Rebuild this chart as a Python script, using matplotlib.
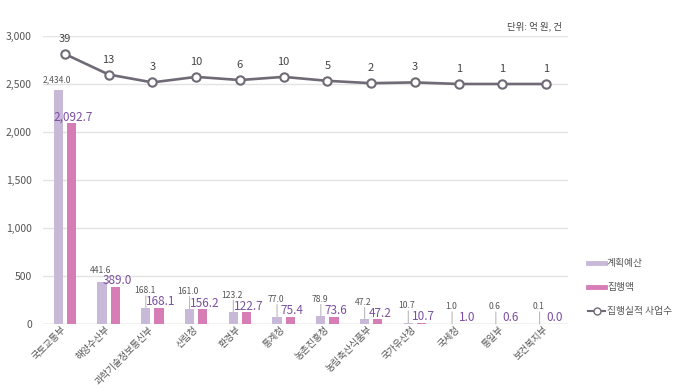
import matplotlib
matplotlib.use("Agg")
import matplotlib.pyplot as plt
from matplotlib.lines import Line2D
import numpy as np

plt.rcParams['font.family'] = ['Noto Sans CJK KR', 'DejaVu Sans']

categories = ['국토교통부', '해양수산부', '과학기술정보통신부', '산림청', '환경부', '통계청',
              '농촌진흥청', '농림축산식품부', '국가유산청', '국세청', '통일부', '보건복지부']
planned = [2434.0, 441.6, 168.1, 161.0, 123.2, 77.0, 78.9, 47.2, 10.7, 1.0, 0.6, 0.1]
executed = [2092.7, 389.0, 168.1, 156.2, 122.7, 75.4, 73.6, 47.2, 10.7, 1.0, 0.6, 0.0]
projects = [39, 13, 3, 10, 6, 10, 5, 2, 3, 1, 1, 1]
yticks = [0, 500, 1000, 1500, 2000, 2500, 3000]

c_plan = '#c9b9d9'
c_exec = '#d67db6'
c_line = '#6f6a75'
c_lbl = '#7b4fa0'

fig = plt.figure(figsize=(6.78, 3.89), dpi=100)
ax = fig.add_axes([0.0634, 0.1671, 0.7744, 0.7404])
x = np.arange(len(categories))
w = 0.21
off = 0.15
ax.bar(x - off, planned, w, color=c_plan, zorder=2)
ax.bar(x + off, executed, w, color=c_exec, zorder=2)

ax.set_xlim(-0.5, len(categories) - 0.5)
ax.set_ylim(0, 3000)
ax.set_yticks(yticks)
ax.set_yticklabels([f'{v:,}' for v in yticks], fontsize=7.5, color='#555555')
ax.grid(axis='y', color='#e2e2e2', linewidth=1, zorder=0)
for s in ax.spines.values():
    s.set_visible(False)
ax.tick_params(axis='y', length=0, pad=8)
ax.tick_params(axis='x', length=0, pad=3)
ax.set_xticks(x)
ax.set_xticklabels(categories, rotation=45, ha='right', va='center',
                   rotation_mode='anchor', fontsize=6.8, color='#555555')
ax.axhline(0, color='#d0d0d0', linewidth=1, zorder=1)


def fmt(v):
    return f'{v:,.1f}' if v >= 1000 else f'{v:.1f}'


for i, (p, e) in enumerate(zip(planned, executed)):
    big = p > 300
    dy = 11 if big else 17
    ax.annotate(fmt(p), (i - off - 0.03, p), xytext=(0, dy), textcoords='offset pixels',
                ha='center', va='center', fontsize=6.2, color='#555555', zorder=5)
    if not big:
        ax.annotate('', (i - off, p), xytext=(0, dy - 5), textcoords='offset pixels',
                    arrowprops=dict(arrowstyle='-', color='#bbbbbb', lw=0.8,
                                    shrinkA=0, shrinkB=0))
    ax.annotate(fmt(e), (i + off, e), xytext=(2, 6),
                textcoords='offset pixels', ha='center', va='center',
                fontsize=8.5, color=c_lbl, zorder=5)

ax2 = ax.twinx()
ax2.set_ylim(-303, 61.8)
ax2.plot(x, projects, color=c_line, linewidth=1.9, marker='o', markersize=6,
         markerfacecolor='white', markeredgecolor=c_line, markeredgewidth=1.5, zorder=6)
for i, n in enumerate(projects):
    ax2.annotate(str(n), (i, n), xytext=(0, 15), textcoords='offset pixels',
                 ha='center', va='center', fontsize=8, color='#444444')
ax2.axis('off')

fig.text(0.829, 0.933, '단위: 억 원, 건', ha='right', va='center', fontsize=6.8, color='#444444')

handles = [Line2D([0], [0], color=c_plan, linewidth=3.5),
           Line2D([0], [0], color=c_exec, linewidth=3.5),
           Line2D([0], [0], color=c_line, linewidth=1.5, marker='o', markersize=5,
                  markerfacecolor='white', markeredgecolor=c_line)]
leg = fig.legend(handles, ['계획예산', '집행액', '집행실적 사업수'], loc='center left',
                 bbox_to_anchor=(0.855, 0.262), frameon=False, fontsize=7,
                 handlelength=1.7, handletextpad=0.2, labelspacing=1.45)
for t in leg.get_texts():
    t.set_color('#555555')

fig.savefig('out.png', dpi=100)
